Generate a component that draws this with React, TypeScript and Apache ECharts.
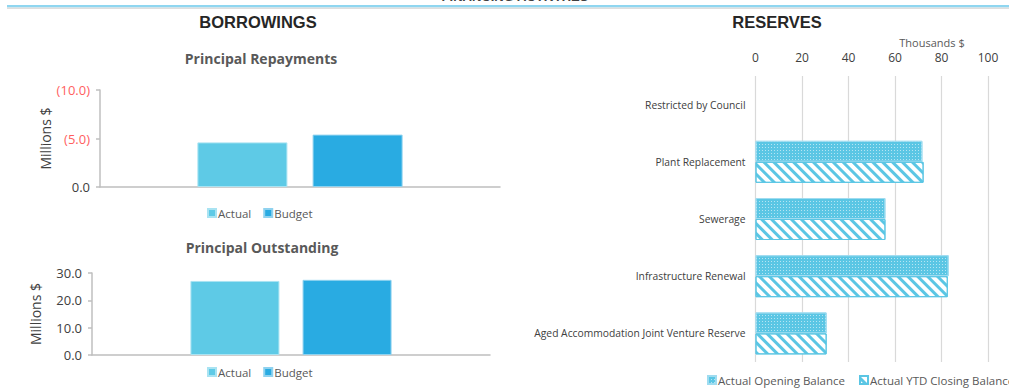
import React, { useEffect, useRef } from "react";
import * as echarts from "echarts";

const repayCategories = ["Principal Repayments"];
const repayActual = [4.6];
const repayBudget = [5.4];
const repayTicks = { min: 0, max: 10, interval: 5 };

const outstandingCategories = ["Principal Outstanding"];
const outstandingActual = [27.1];
const outstandingBudget = [27.5];
const outstandingTicks = { min: 0, max: 30, interval: 10 };

const reserveCategories = [
  "Restricted by Council",
  "Plant Replacement",
  "Sewerage",
  "Infrastructure Renewal",
  "Aged Accommodation Joint Venture Reserve",
];
const reserveOpening = [0, 71.8, 55.9, 83.1, 30.6];
const reserveClosing = [0, 72.3, 55.9, 82.7, 30.6];
const reserveTicks = { min: 0, max: 100, interval: 20 };

const C_ACTUAL = "#5ECAE6";
const C_BUDGET = "#29ABE2";
const C_RES = "#5BC6E4";
const FONT = "'Open Sans', Lato, sans-serif";
const ARIAL = "'Liberation Sans', Arial, sans-serif";

const hideZero = (arr: number[]) =>
  arr.map((v) => ({ value: v, itemStyle: v === 0 ? { borderWidth: 0 } : {} }));

export default function App() {
  const ref = useRef<HTMLDivElement>(null);
  useEffect(() => {
    if (!ref.current) return;
    const chart = echarts.init(ref.current, undefined, { renderer: "svg" });
    const axisLineStyle = { color: "#bfbfbf", width: 1.5 };
    const leftLegendText = { fontFamily: FONT, fontSize: 11.5, color: "#595959", padding: [0, 0, 0, -3] };
    const option: any = {
      animation: false,
      backgroundColor: "#ffffff",
      graphic: [
        {
          type: "text",
          x: 515,
          y: -10,
          style: {
            text: "FINANCING ACTIVITIES",
            font: `bold 13px ${ARIAL}`,
            fill: "#404040",
            align: "center",
          },
        },
        { type: "rect", shape: { x: 7, y: 5, width: 1002, height: 2.5 }, style: { fill: "#8fd6f0" } },
        { type: "rect", shape: { x: 7, y: 7.5, width: 1002, height: 1.5 }, style: { fill: "#dedede" } },
      ],
      title: [
        { text: "BORROWINGS", left: 253, top: 8, textAlign: "center", textStyle: { fontFamily: ARIAL, fontWeight: "bold", fontSize: 16.5, color: "#262626" } },
        { text: "RESERVES", left: 772, top: 8, textAlign: "center", textStyle: { fontFamily: ARIAL, fontWeight: "bold", fontSize: 16.5, color: "#262626" } },
        { text: "Principal Repayments", left: 256, top: 46, textAlign: "center", textStyle: { fontFamily: FONT, fontWeight: "bold", fontSize: 14, color: "#595959" } },
        { text: "Principal Outstanding", left: 257, top: 235, textAlign: "center", textStyle: { fontFamily: FONT, fontWeight: "bold", fontSize: 14, color: "#595959" } },
        { text: "Thousands $", left: 927, top: 32, textAlign: "center", textStyle: { fontFamily: FONT, fontWeight: "normal", fontSize: 11, color: "#595959" } },
      ],
      legend: [
        {
          data: ["Actual", "Budget"],
          left: 202,
          top: 202,
          itemWidth: 8,
          itemHeight: 8,
          itemGap: 12,
          icon: "rect",
          textStyle: leftLegendText,
        },
        {
          data: ["Actual", "Budget"],
          left: 202,
          top: 361,
          itemWidth: 8,
          itemHeight: 8,
          itemGap: 12,
          icon: "rect",
          textStyle: leftLegendText,
        },
        {
          data: ["Actual Opening Balance", "Actual YTD Closing Balance"],
          left: 702,
          top: 369,
          width: 500,
          itemWidth: 8,
          itemHeight: 8,
          itemGap: 14,
          icon: "rect",
          textStyle: { fontFamily: FONT, fontSize: 11.5, color: "#595959", padding: [0, 0, 0, -3] },
        },
      ],
      grid: [
        { left: 100, top: 90, width: 400, height: 97 },
        { left: 92, top: 273, width: 398, height: 82 },
        { left: 755.5, top: 76, width: 232.5, height: 286 },
      ],
      xAxis: [
        {
          type: "category",
          gridIndex: 0,
          data: repayCategories,
          axisLine: { lineStyle: axisLineStyle },
          axisTick: { show: false },
          axisLabel: { show: false },
        },
        {
          type: "category",
          gridIndex: 1,
          data: outstandingCategories,
          axisLine: { lineStyle: axisLineStyle },
          axisTick: { show: false },
          axisLabel: { show: false },
        },
        {
          type: "value",
          gridIndex: 2,
          position: "top",
          min: reserveTicks.min,
          max: reserveTicks.max,
          interval: reserveTicks.interval,
          axisLine: { show: false },
          axisTick: { show: false },
          axisLabel: { fontFamily: FONT, fontSize: 12, color: "#404040", margin: 13 },
          splitLine: { lineStyle: { color: "#d9d9d9", width: 1.2 } },
        },
      ],
      yAxis: [
        {
          type: "value",
          gridIndex: 0,
          min: repayTicks.min,
          max: repayTicks.max,
          interval: repayTicks.interval,
          name: "Millions $",
          nameLocation: "middle",
          nameGap: 44,
          nameRotate: 90,
          nameTextStyle: { fontFamily: FONT, fontSize: 14, color: "#404040" },
          axisLine: { show: true, lineStyle: axisLineStyle },
          axisTick: { show: true, length: 4, lineStyle: axisLineStyle },
          splitLine: { show: false },
          axisLabel: {
            fontFamily: FONT,
            fontSize: 13,
            margin: 10,
            formatter: (v: number) => (v === 0 ? "0.0" : `(${v.toFixed(1)})`),
            color: (v: any) => (Number(v) === 0 ? "#404040" : "#ff5f5f"),
          },
        },
        {
          type: "value",
          gridIndex: 1,
          min: outstandingTicks.min,
          max: outstandingTicks.max,
          interval: outstandingTicks.interval,
          name: "Millions $",
          nameLocation: "middle",
          nameGap: 50,
          nameRotate: 90,
          nameTextStyle: { fontFamily: FONT, fontSize: 14, color: "#404040" },
          axisLine: { show: true, lineStyle: axisLineStyle },
          axisTick: { show: true, length: 4, lineStyle: axisLineStyle },
          splitLine: { show: false },
          axisLabel: {
            fontFamily: FONT,
            fontSize: 13,
            margin: 10,
            color: "#404040",
            formatter: (v: number) => v.toFixed(1),
          },
        },
        {
          type: "category",
          gridIndex: 2,
          inverse: true,
          data: reserveCategories,
          axisLine: { show: false },
          axisTick: { show: false },
          axisLabel: { fontFamily: FONT, fontSize: 10.3, color: "#404040", margin: 10 },
        },
      ],
      series: [
        {
          name: "Actual",
          type: "bar",
          xAxisIndex: 0,
          yAxisIndex: 0,
          data: repayActual,
          barWidth: 90,
          barGap: "28%",
          itemStyle: { color: C_ACTUAL, borderColor: "#a9e3f2", borderWidth: 1 },
        },
        {
          name: "Budget",
          type: "bar",
          xAxisIndex: 0,
          yAxisIndex: 0,
          data: repayBudget,
          barWidth: 90,
          barGap: "28%",
          itemStyle: { color: C_BUDGET, borderColor: "#8fd2ef", borderWidth: 1 },
        },
        {
          name: "Actual",
          type: "bar",
          xAxisIndex: 1,
          yAxisIndex: 1,
          data: outstandingActual,
          barWidth: 89,
          barGap: "26%",
          itemStyle: { color: C_ACTUAL, borderColor: "#a9e3f2", borderWidth: 1 },
        },
        {
          name: "Budget",
          type: "bar",
          xAxisIndex: 1,
          yAxisIndex: 1,
          data: outstandingBudget,
          barWidth: 89,
          barGap: "26%",
          itemStyle: { color: C_BUDGET, borderColor: "#8fd2ef", borderWidth: 1 },
        },
        {
          name: "Actual Opening Balance",
          type: "bar",
          xAxisIndex: 2,
          yAxisIndex: 2,
          data: hideZero(reserveOpening),
          barWidth: 21,
          barGap: "0%",
          itemStyle: {
            color: C_RES,
            borderColor: "#9fdcf0",
            borderWidth: 1,
            decal: {
              symbol: "rect",
              symbolSize: 1,
              dashArrayX: [1, 2],
              dashArrayY: [1, 2],
              color: "rgba(255,255,255,0.55)",
            },
          },
        },
        {
          name: "Actual YTD Closing Balance",
          type: "bar",
          xAxisIndex: 2,
          yAxisIndex: 2,
          data: hideZero(reserveClosing),
          barWidth: 21,
          barGap: "0%",
          itemStyle: {
            color: "#ffffff",
            borderColor: C_RES,
            borderWidth: 1,
            decal: {
              symbol: "rect",
              symbolSize: 1,
              dashArrayX: [1, 0],
              dashArrayY: [3, 3.5],
              rotation: Math.PI / 4,
              color: C_RES,
            },
          },
        },
      ],
    };
    chart.setOption(option);
    return () => chart.dispose();
  }, []);
  return (
    <div
      ref={ref}
      style={{ position: "absolute", left: 0, top: 0, width: 1009, height: 388 }}
    />
  );
}
